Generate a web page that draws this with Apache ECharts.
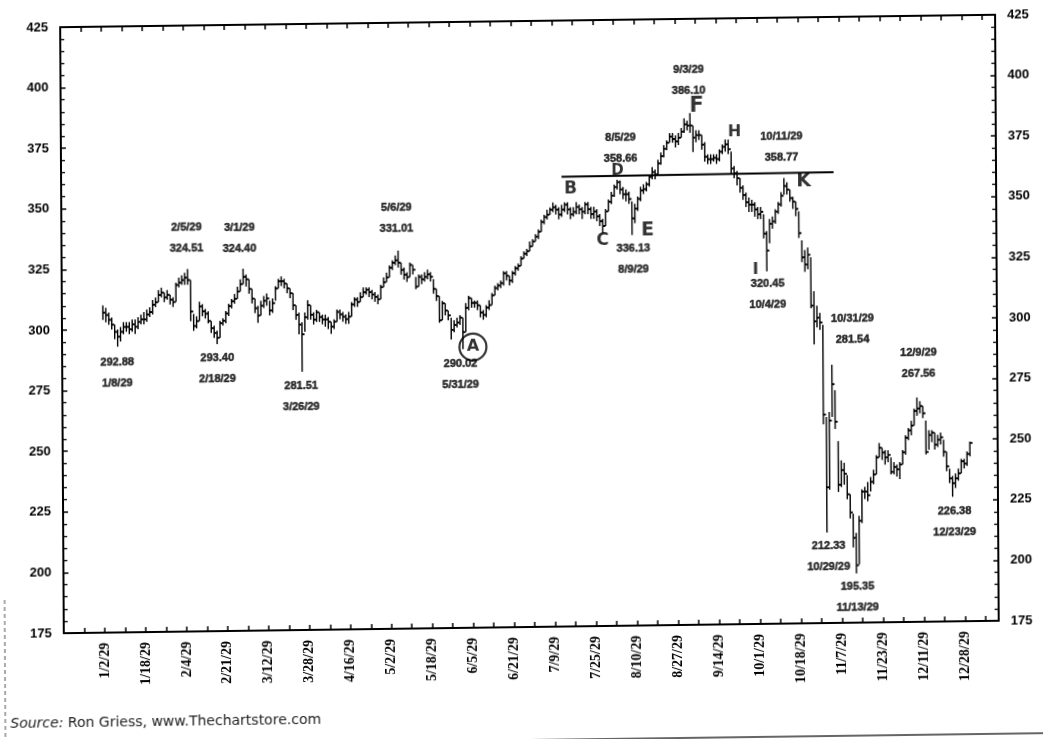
<!DOCTYPE html>
<html>
<head>
<meta charset="utf-8">
<script src="https://cdn.jsdelivr.net/npm/echarts@6/dist/echarts.min.js"></script>
<style>
html, body { margin: 0; padding: 0; background: #fff; overflow: hidden; }
/* the scan is slightly skewed: horizontal lines climb to the right */
#chart { width: 1043px; height: 770px; transform: matrix(1, -0.0133, 0.006, 1, 0, 0); transform-origin: 0 0; }
</style>
</head>
<body>
<div id="chart"></div>
<script>
// x tick labels, one every 14 trading days from 1/2/29
var tickLabels = ['1/2/29', '1/18/29', '2/4/29', '2/21/29', '3/12/29', '3/28/29', '4/16/29', '5/2/29',
	'5/18/29', '6/5/29', '6/21/29', '7/9/29', '7/25/29', '8/10/29', '8/27/29', '9/14/29', '10/1/29',
	'10/18/29', '11/7/29', '11/23/29', '12/11/29', '12/28/29'];

// daily bars of the Dow, 1929 (trading day index = position in the arrays)
var closes = [
	307, 306, 304, 302, 299, 297, 299, 301, 301, 300,
	302, 301, 303, 304, 304, 306, 307, 310, 311, 314,
	315, 313, 314, 312, 311, 318, 319, 320, 321, 320,
	307, 301, 303, 309, 307, 306, 303, 300, 298, 296,
	302, 303, 306, 309, 311, 312, 315, 318, 321, 320,
	316, 312, 308, 305, 309, 311, 312, 307, 310, 316,
	319, 319, 318, 316, 314, 309, 305, 301, 297, 304,
	309, 305, 303, 306, 304, 303, 303, 302, 300, 302,
	306, 305, 304, 303, 304, 309, 311, 310, 312, 314,
	315, 314, 313, 312, 311, 316, 318, 320, 324, 326,
	327, 326, 323, 321, 320, 325, 323, 316, 320, 319,
	320, 321, 320, 315, 312, 302, 309, 306, 304, 298,
	300, 301, 303, 297, 307, 311, 309, 309, 308, 305,
	304, 307, 308, 312, 315, 316, 317, 321, 320, 318,
	321, 323, 324, 327, 329, 330, 332, 334, 336, 338,
	342, 344, 345, 347, 348, 347, 345, 347, 349, 347,
	345, 346, 348, 347, 346, 349, 347, 345, 346, 344,
	342, 340, 346, 350, 352.5, 356, 358, 355, 353, 353,
	351, 343, 347, 351, 354.5, 355, 357, 360, 362, 361,
	365.5, 368.5, 371.5, 374, 376.5, 375.5, 374.5, 376, 378.5, 381.5,
	381, 381, 376, 377, 377, 373, 368, 367, 367, 367.5,
	367, 370, 372, 373, 371, 363, 361, 359, 355, 352,
	349, 348, 348, 346, 344, 345, 336, 329, 340, 341,
	345, 348, 351.5, 355.5, 354, 350.5, 349, 346, 336, 326,
	323, 327, 306, 299.5, 301, 299, 261, 231, 258.5, 273.5,
	258, 232, 238, 236.5, 228, 220.5, 210, 198.7, 217, 229,
	229, 227.5, 233, 236, 243, 247, 245, 243, 244, 237,
	239, 238, 240, 245, 251, 254, 256, 262, 263, 264,
	261, 245, 252, 253, 248, 250, 251, 245, 239, 234,
	232, 234, 236, 241, 240, 244, 248.5
];
var highs = [
	310, 309, 307, 305, 302, 300, 301, 303, 303, 303,
	304, 304, 305, 306, 307, 308, 309, 312, 313, 316,
	317, 315, 316, 314, 313, 319, 321, 322, 323, 324.51,
	320, 306, 305, 311, 310, 308, 307, 303, 301, 299,
	303, 304, 307, 310, 312, 314, 317, 320, 324.4, 322,
	320, 316, 312, 309, 311, 313, 314, 311, 312, 317,
	320, 321, 320, 318, 316, 314, 309, 306, 302, 306,
	311, 309, 306, 307, 306, 305, 305, 304, 302, 303,
	307, 307, 306, 305, 306, 310, 312, 312, 314, 316,
	316, 316, 315, 314, 313, 317, 320, 322, 325, 327,
	329, 331.01, 326, 324, 322, 326, 325, 320, 321, 321,
	322, 323, 322, 319, 315, 312, 310, 309, 306, 303,
	302, 303, 304, 303, 309, 312, 311, 310, 310, 308,
	306, 308, 310, 313, 316, 317, 318, 322, 322, 320,
	322, 324, 325, 328, 330, 331, 334, 335, 337, 339,
	343, 345, 347, 348, 350, 349, 348, 349, 350, 350,
	348, 348, 350, 349, 348, 350, 350, 348, 348, 347,
	345, 343, 347, 351, 354, 357, 359, 358.66, 356, 355,
	354, 350, 349, 352, 356, 357, 358, 361, 364, 363,
	367, 370, 373, 375, 378, 378, 377, 378, 380, 384,
	383, 386.1, 381, 379, 379, 377, 374, 369, 369, 369,
	369, 371, 373, 375, 375, 370, 364, 362, 359, 356,
	353, 351, 350, 349, 347, 347, 344, 337, 342, 343,
	346, 349, 353, 358.77, 357, 354, 351, 349, 345, 333,
	329, 330, 326, 312, 306, 303, 298, 260, 262, 281.54,
	271, 250, 242, 241, 236, 228, 220, 212, 219, 230,
	231, 233, 235, 238, 244, 249, 247, 246, 246, 243,
	241, 240, 241, 246, 252, 255, 258, 263, 267.56, 266,
	264, 258, 254, 254, 253, 252, 253, 250, 245, 238,
	235, 236, 238, 242, 242, 245, 249
];
var lows = [
	304, 303, 302, 300, 296, 292.88, 295, 298, 299, 298,
	299, 298, 300, 302, 302, 303, 305, 306, 309, 311,
	313, 311, 312, 310, 309, 311, 317, 318, 318, 318,
	303, 299, 300, 303, 305, 304, 302, 298, 296, 293.4,
	296, 301, 302, 305, 308, 310, 312, 315, 318, 317,
	314, 310, 306, 302, 305, 308, 309, 305, 306, 311,
	316, 317, 316, 314, 312, 307, 303, 297, 281.51, 298,
	303, 303, 301, 302, 302, 301, 300, 299, 297, 299,
	302, 303, 302, 301, 301, 304, 308, 308, 310, 312,
	313, 312, 311, 310, 309, 311, 316, 318, 320, 323,
	325, 324, 321, 319, 318, 320, 321, 315, 316, 317,
	318, 319, 318, 313, 310, 301, 302, 304, 302, 294,
	297, 299, 300, 290.02, 297, 306, 307, 307, 306, 303,
	302, 303, 306, 308, 312, 314, 315, 316, 318, 316,
	317, 320, 322, 324, 327, 328, 330, 332, 334, 335,
	338, 341, 343, 345, 346, 345, 343, 344, 346, 345,
	343, 344, 345, 345, 343, 345, 345, 343, 343, 342,
	340, 337, 340, 346, 349, 352, 355, 353, 351, 350,
	349, 336.13, 341, 346, 350, 353, 354, 356, 359, 359,
	361, 365, 368, 371, 374, 374, 372, 373, 376, 378,
	379, 378, 370, 374, 375, 371, 366, 365, 365, 366,
	365, 366, 369, 370, 369, 361, 359, 356, 353, 350,
	347, 345, 345, 343, 342, 342, 334, 320.45, 332, 338,
	340, 344, 347, 352, 352, 349, 346, 343, 334, 324,
	320, 321, 305, 290, 297, 296, 257, 212.33, 230, 260,
	255, 229, 231, 232, 226, 218, 206, 195.35, 199, 216,
	226, 225, 229, 232, 236, 243, 242, 240, 241, 236,
	236, 235, 234, 240, 244, 250, 252, 256, 260, 261,
	259, 244, 246, 249, 246, 247, 248, 243, 237, 232,
	226.38, 230, 233, 236, 238, 239, 243
];

// printed callouts: text, and where they sit (trading day, index level)
var callouts = [
	['2/5/29\n324.51', 28.9, 337.2],
	['3/1/29\n324.40', 47.0, 336.9],
	['292.88\n1/8/29', 5.0, 282.0],
	['293.40\n2/18/29', 39.2, 282.9],
	['281.51\n3/26/29', 67.8, 271.1],
	['5/6/29\n331.01', 100.7, 344.1],
	['290.02\n5/31/29', 122.3, 279.5],
	['8/5/29\n358.66', 177.4, 371.7],
	['336.13\n8/9/29', 181.6, 325.9],
	['9/3/29\n386.10', 200.8, 399.4],
	['10/11/29\n358.77', 232.4, 371.5],
	['320.45\n10/4/29', 227.4, 310.7],
	['10/31/29\n281.54', 256.3, 295.8],
	['12/9/29\n267.56', 278.8, 281.4],
	['212.33\n10/29/29', 247.7, 202.2],
	['195.35\n11/13/29', 257.5, 185.5],
	['226.38\n12/23/29', 290.8, 215.9]
];
// hand-written wave letters
var letters = [
	['B', 160.3, 355.1, 17], ['C', 171.1, 333.9, 17], ['D', 176.3, 362.3, 15],
	['E', 186.5, 337.8, 19], ['F', 203.5, 388.7, 21], ['H', 216.4, 377.7, 16],
	['I', 223.3, 321.1, 16], ['K', 239.9, 357.1, 19]
];
var circled = [['A', 126.4, 290.8]];
// hand-drawn neckline
var neckline = [[157, 360.5], [250, 361]];

var bars = closes.map(function (c, i) { return [i, highs[i], lows[i], c]; });

var chart = echarts.init(document.getElementById('chart'));

var axisFont = 'Liberation Sans';
var black = '#000';

function renderBar(params, api) {
	var i = api.value(0);
	var hi = api.coord([i, api.value(1)]);
	var lo = api.coord([i, api.value(2)]);
	var cl = api.coord([i, api.value(3)]);
	return {
		type: 'group',
		children: [
			{type: 'line', shape: {x1: hi[0], y1: hi[1], x2: lo[0], y2: lo[1]}, style: {stroke: black, lineWidth: 1.4}},
			{type: 'line', shape: {x1: cl[0], y1: cl[1], x2: cl[0] + 2.6, y2: cl[1]}, style: {stroke: black, lineWidth: 1.9}}
		]
	};
}

var yAxisBase = {
	type: 'value',
	min: 175,
	max: 425,
	interval: 25,
	axisLine: {show: true, onZero: false, lineStyle: {color: black, width: 2}},
	axisTick: {show: true, inside: true, length: 5, lineStyle: {color: black, width: 1.5}},
	minorTick: {show: true, splitNumber: 5, length: 4, lineStyle: {color: black, width: 1.3}},
	splitLine: {show: false},
	axisLabel: {color: black, fontFamily: axisFont, fontWeight: 'bold', fontSize: 13, margin: 12}
};

var xAxisBase = {
	type: 'value',
	min: -14,
	max: 305.5,
	interval: 7,
	axisLine: {show: true, onZero: false, lineStyle: {color: black, width: 2}},
	axisTick: {show: true, inside: true, length: 5, lineStyle: {color: black, width: 1.5}},
	splitLine: {show: false}
};

var option = {
	animation: false,
	backgroundColor: '#fff',
	grid: {left: 60, top: 28, right: 48, bottom: 136, containLabel: false},
	xAxis: [
		echarts.util.merge({
			position: 'bottom',
			axisLabel: {
				rotate: 90,
				margin: 10,
				color: black,
				fontFamily: 'Liberation Sans Narrow',
				fontWeight: 'bold',
				fontSize: 14,
				showMinLabel: true,
				showMaxLabel: true,
				formatter: function (v) {
					if (v >= 0 && v % 14 === 0 && v / 14 < tickLabels.length) return tickLabels[v / 14];
					return '';
				}
			}
		}, echarts.util.clone(xAxisBase)),
		echarts.util.merge({position: 'top', axisLabel: {show: false}}, echarts.util.clone(xAxisBase))
	],
	yAxis: [
		echarts.util.merge({position: 'left'}, echarts.util.clone(yAxisBase)),
		echarts.util.merge({position: 'right'}, echarts.util.clone(yAxisBase))
	],
	series: [
		{
			name: 'DJIA',
			type: 'custom',
			xAxisIndex: 0,
			yAxisIndex: 0,
			renderItem: renderBar,
			encode: {x: 0, y: [1, 2, 3]},
			data: bars,
			clip: false
		},
		{
			name: 'neckline',
			type: 'line',
			xAxisIndex: 0,
			yAxisIndex: 0,
			data: neckline,
			symbol: 'none',
			lineStyle: {color: black, width: 2},
			silent: true
		},
		{
			name: 'callouts',
			type: 'scatter',
			xAxisIndex: 0,
			yAxisIndex: 0,
			data: callouts.map(function (c) { return [c[1], c[2], c[0]]; }),
			symbolSize: 1,
			itemStyle: {color: 'rgba(0,0,0,0)'},
			label: {
				show: true,
				position: [0, 0],
				formatter: function (p) { return p.data[2]; },
				color: black,
				fontFamily: axisFont,
				fontWeight: 'bold',
				fontSize: 11,
				lineHeight: 21,
				align: 'center',
				verticalAlign: 'middle',
				textBorderColor: black,
				textBorderWidth: 0.5
			},
			silent: true
		},
		{
			name: 'letters',
			type: 'scatter',
			xAxisIndex: 0,
			yAxisIndex: 0,
			data: letters.map(function (c) {
				return {value: [c[1], c[2]], name: c[0], label: {fontSize: c[3]}};
			}),
			symbolSize: 1,
			itemStyle: {color: 'rgba(0,0,0,0)'},
			label: {
				show: true,
				position: [0, 0],
				align: 'center',
				verticalAlign: 'middle',
				formatter: '{b}',
				color: black,
				fontFamily: 'DejaVu Sans',
				fontWeight: 'bold'
			},
			silent: true
		},
		{
			name: 'circled',
			type: 'scatter',
			xAxisIndex: 0,
			yAxisIndex: 0,
			data: circled.map(function (c) { return {value: [c[1], c[2]], name: c[0]}; }),
			symbol: 'circle',
			symbolSize: 27,
			itemStyle: {color: 'rgba(0,0,0,0)', borderColor: black, borderWidth: 2.2},
			label: {
				show: true,
				position: 'inside',
				formatter: '{b}',
				color: black,
				fontFamily: 'DejaVu Sans',
				fontWeight: 'bold',
				fontSize: 16
			},
			silent: true
		}
	],
	graphic: [
		{
			type: 'text',
			left: 6,
			top: 717,
			style: {
				text: '{i|Source:} Ron Griess, www.Thechartstore.com',
				fill: '#222',
				font: '14px "DejaVu Sans"',
				rich: {i: {fontStyle: 'italic', fontSize: 14, fontFamily: 'DejaVu Sans', fill: '#222'}}
			}
		},
		{
			type: 'line',
			shape: {x1: 520, y1: 747, x2: 1043, y2: 747},
			style: {stroke: '#333', lineWidth: 1.5}
		},
		{
			type: 'line',
			shape: {x1: 1, y1: 600, x2: 1, y2: 770},
			style: {stroke: '#555', lineWidth: 1, lineDash: [4, 3]}
		}
	]
};

chart.setOption(option);
</script>
</body>
</html>
